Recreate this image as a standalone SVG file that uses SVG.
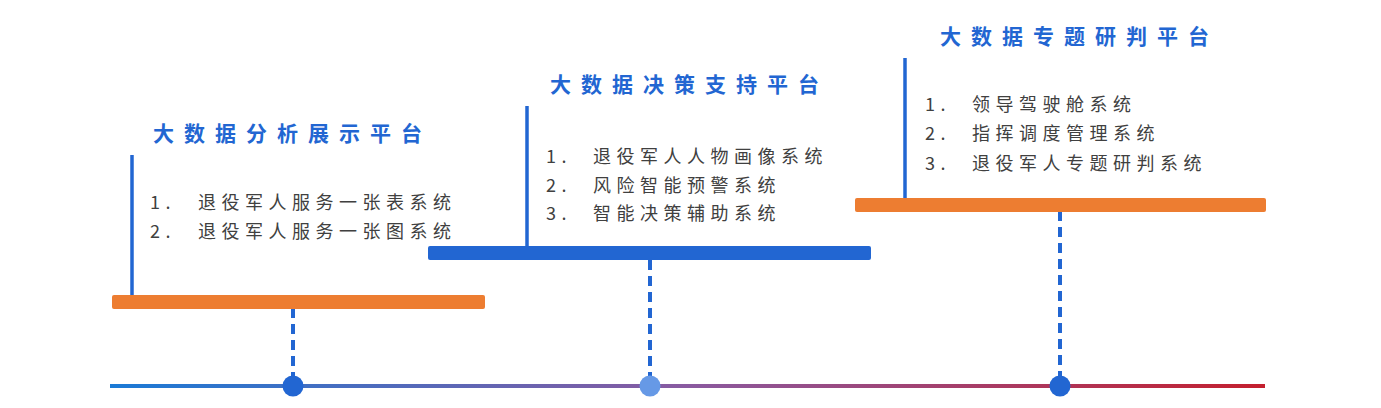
<svg xmlns="http://www.w3.org/2000/svg" width="1381" height="408" viewBox="0 0 1381 408">
<defs>
<linearGradient id="tl" x1="110" y1="0" x2="1265" y2="0" gradientUnits="userSpaceOnUse">
<stop offset="0" stop-color="#1a7ad6"/><stop offset="0.5" stop-color="#8a5aa0"/><stop offset="1" stop-color="#c41f2e"/>
</linearGradient>
<style>
.t{font-family:"Noto Sans CJK SC","Liberation Sans",sans-serif;font-weight:bold;font-size:21px;fill:#2266d2;letter-spacing:10px}
.i{font-family:"Noto Sans CJK SC","Liberation Sans",sans-serif;font-size:18px;fill:#404040;letter-spacing:5.5px}
.v{stroke:#2266d2;stroke-width:3.5}
.d{stroke:#2266d2;stroke-width:4;stroke-dasharray:10 6}
.ob{fill:#ed7d31}
.bb{fill:#2266d2}
</style>
</defs>
<g id="connectors">
<line class="d" x1="293" y1="308" x2="293" y2="380"/>
<line class="d" x1="650" y1="260" x2="650" y2="380"/>
<line class="d" x1="1060" y1="211" x2="1060" y2="380"/>
<line x1="110" y1="386" x2="1265" y2="386" stroke="url(#tl)" stroke-width="4"/>
</g>
<g id="dots">
<circle cx="293" cy="386" r="10.5" fill="#2266d2"/>
<circle cx="650" cy="386" r="10.5" fill="#6699e6"/>
<circle cx="1060" cy="386" r="10.5" fill="#2266d2"/>
</g>
<g id="node1">
<line class="v" x1="132" y1="155" x2="132" y2="300"/>
<rect class="ob" x="112" y="295" width="373" height="14" rx="2"/>
<text class="t" x="153" y="141">大数据分析展示平台</text>
<text class="i" x="150" y="209">1.</text><text class="i" x="198" y="209">退役军人服务一张表系统</text>
<text class="i" x="150" y="238">2.</text><text class="i" x="198" y="238">退役军人服务一张图系统</text>
</g>
<g id="node2">
<line class="v" x1="527" y1="106" x2="527" y2="248"/>
<rect class="bb" x="428" y="246" width="443" height="14" rx="2"/>
<text class="t" x="550" y="92">大数据决策支持平台</text>
<text class="i" x="546" y="163">1.</text><text class="i" x="593" y="163">退役军人人物画像系统</text>
<text class="i" x="546" y="192">2.</text><text class="i" x="593" y="192">风险智能预警系统</text>
<text class="i" x="546" y="220">3.</text><text class="i" x="593" y="220">智能决策辅助系统</text>
</g>
<g id="node3">
<line class="v" x1="905" y1="58" x2="905" y2="203"/>
<rect class="ob" x="855" y="198" width="411" height="14" rx="2"/>
<text class="t" x="940" y="44">大数据专题研判平台</text>
<text class="i" x="925" y="111">1.</text><text class="i" x="972" y="111">领导驾驶舱系统</text>
<text class="i" x="925" y="140">2.</text><text class="i" x="972" y="140">指挥调度管理系统</text>
<text class="i" x="925" y="170">3.</text><text class="i" x="972" y="170">退役军人专题研判系统</text>
</g>
</svg>
